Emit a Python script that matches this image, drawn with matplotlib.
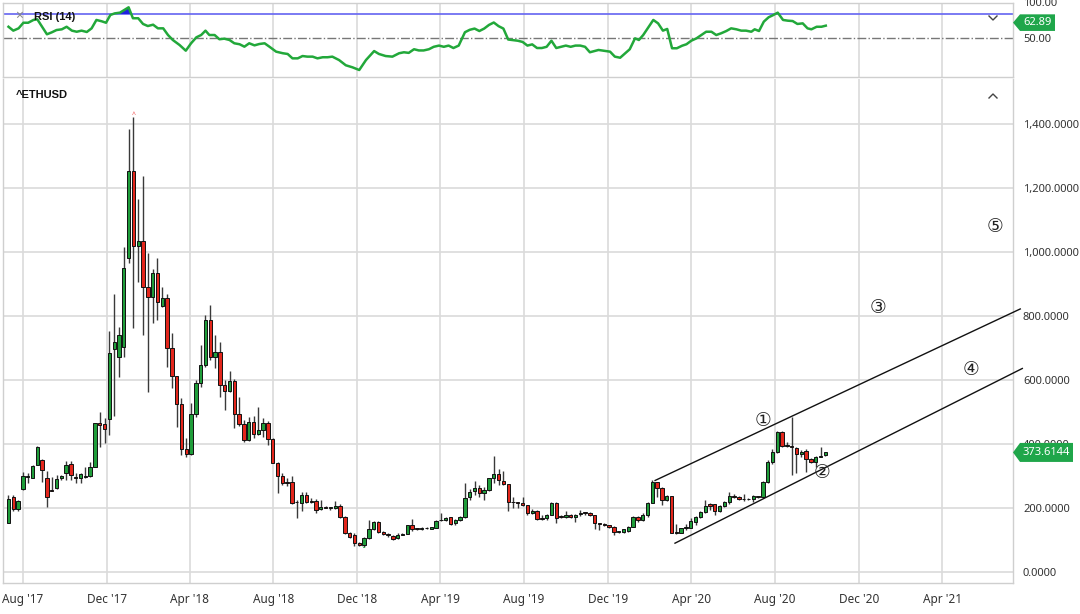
import matplotlib
matplotlib.use('Agg')
import matplotlib.pyplot as plt
import matplotlib.dates as mdates
import numpy as np
import pandas as pd
from matplotlib.patches import Polygon
from matplotlib.lines import Line2D

plt.rcParams['font.family'] = ['Noto Sans', 'DejaVu Sans']

# weekly ETH candles
opens = [154, 233, 196, 258, 298, 295, 334, 350, 295, 255, 262, 293, 308, 339, 296, 293, 297, 300, 329, 465,
         461, 477, 696, 673, 704, 980, 1254, 1020, 1035, 890, 860, 935, 831, 856, 699, 612, 525, 384, 369, 493,
         592, 647, 787, 673, 686, 584, 566, 598, 494, 462, 412, 468, 431, 444, 467, 415, 342, 300, 281, 281,
         219, 217, 241, 223, 221, 196, 202, 200, 200, 207, 173, 121, 117, 92, 83, 106, 133, 155, 124, 119,
         112, 106, 117, 120, 146, 135, 135, 137, 135, 137, 162, 162, 171, 152, 164, 171, 233, 254, 261, 246,
         256, 293, 305, 285, 275, 219, 217, 215, 209, 183, 192, 168, 168, 179, 217, 173, 173, 179, 173, 182,
         185, 185, 177, 152, 149, 146, 142, 126, 126, 128, 142, 171, 162, 178, 217, 282, 261, 225, 238, 123,
         123, 136, 139, 157, 171, 189, 211, 211, 191, 206, 220, 238, 235, 227, 228, 227, 237, 233, 282, 345,
         376, 438, 395, 392, 388, 368, 378, 352, 345, 360, 366]
highs = [241, 241, 225, 314, 310, 334, 394, 352, 317, 298, 303, 303, 347, 348, 308, 308, 329, 345, 467, 499,
         480, 754, 868, 767, 1017, 1383, 1423, 1165, 1237, 996, 946, 982, 892, 868, 746, 612, 543, 418, 527, 600,
         709, 803, 834, 741, 720, 600, 629, 603, 546, 475, 485, 487, 515, 480, 473, 418, 345, 308, 293, 300,
         225, 251, 251, 232, 227, 225, 206, 204, 222, 212, 175, 126, 121, 95, 108, 163, 160, 160, 129, 121,
         116, 121, 123, 147, 165, 138, 140, 140, 142, 164, 183, 172, 173, 166, 174, 277, 258, 285, 272, 267,
         295, 362, 321, 316, 275, 235, 220, 235, 209, 197, 194, 178, 181, 220, 220, 178, 192, 181, 181, 194,
         189, 188, 178, 154, 152, 148, 144, 129, 134, 145, 175, 175, 183, 220, 287, 282, 265, 241, 238, 150,
         139, 150, 168, 175, 192, 225, 217, 214, 209, 223, 251, 243, 237, 243, 232, 241, 239, 285, 350, 383,
         441, 441, 407, 485, 392, 381, 383, 355, 362, 392, 375]
lows = [152, 192, 192, 256, 277, 293, 334, 282, 202, 254, 258, 287, 287, 287, 277, 277, 293, 298, 329, 392,
        402, 428, 488, 610, 673, 967, 764, 907, 741, 564, 779, 788, 829, 642, 574, 454, 366, 358, 366, 483,
        577, 640, 662, 636, 548, 506, 564, 449, 456, 407, 410, 418, 428, 421, 397, 340, 248, 272, 269, 212,
        168, 192, 217, 215, 185, 194, 199, 194, 198, 168, 119, 105, 81, 80, 79, 104, 131, 121, 115, 110,
        100, 102, 115, 118, 129, 130, 130, 133, 133, 136, 158, 158, 148, 148, 160, 170, 225, 241, 235, 225,
        254, 277, 272, 272, 192, 199, 199, 206, 178, 181, 162, 164, 164, 177, 154, 168, 170, 168, 157, 175,
        178, 175, 133, 131, 144, 137, 116, 123, 123, 126, 140, 157, 160, 173, 215, 235, 209, 223, 121, 119,
        121, 131, 136, 147, 168, 185, 194, 178, 187, 202, 214, 230, 225, 223, 225, 220, 231, 231, 279, 337,
        371, 390, 392, 303, 310, 360, 313, 341, 329, 358, 363]
closes = [227, 196, 222, 300, 301, 331, 392, 319, 235, 252, 290, 300, 334, 303, 295, 305, 298, 329, 465, 459,
          446, 683, 720, 740, 951, 1254, 1020, 1035, 890, 860, 935, 845, 856, 699, 612, 525, 384, 369, 493, 592,
          647, 787, 673, 686, 584, 566, 598, 494, 462, 412, 468, 431, 444, 467, 415, 342, 300, 279, 277, 217,
          218, 241, 219, 219, 194, 202, 201, 201, 207, 173, 121, 110, 90, 83, 106, 133, 155, 124, 118, 115,
          104, 117, 120, 146, 135, 134, 136, 137, 140, 160, 162, 170, 150, 164, 171, 231, 251, 261, 246, 256,
          293, 305, 287, 275, 219, 218, 216, 209, 183, 192, 167, 167, 179, 217, 170, 172, 179, 171, 179, 183,
          184, 177, 152, 151, 148, 140, 126, 127, 133, 142, 171, 164, 178, 217, 282, 261, 225, 238, 123, 125,
          136, 142, 159, 171, 189, 206, 206, 191, 206, 220, 238, 233, 228, 228, 227, 237, 233, 282, 345, 376,
          438, 395, 396, 391, 368, 376, 352, 345, 360, 362, 373.6144]

# RSI(14) line, week offset from first candle and value
rsi_week = [0.0, 1.0, 2.1, 3.1, 4.1, 5.2, 6.0, 8.0, 9.0, 10.0, 11.1, 12.1, 13.2, 14.2, 15.2, 16.3, 17.3, 18.3,
            19.4, 20.3, 21.2, 22.1, 23.2, 25.0, 25.9, 27.0, 28.0, 29.0, 30.1, 31.1, 32.2, 33.2, 34.2, 35.6,
            36.9, 38.0, 39.1, 40.1, 41.0, 41.8, 42.9, 43.9, 44.9, 46.0, 47.0, 48.1, 49.1, 50.1, 51.2, 52.2,
            53.3, 54.3, 55.7, 57.1, 58.1, 59.1, 60.2, 61.2, 62.2, 63.3, 64.3, 65.4, 66.4, 67.4, 68.8, 70.2,
            71.6, 73.0, 74.4, 76.1, 77.1, 78.5, 79.9, 81.3, 82.3, 83.3, 84.4, 85.4, 86.4, 87.5, 88.5, 89.6,
            90.6, 91.6, 92.6, 93.7, 95.0, 96.0, 97.0, 98.0, 99.0, 100.0, 101.0, 102.0, 103.0, 104.0, 105.0,
            106.0, 107.0, 108.0, 109.0, 110.0, 111.0, 112.0, 113.0, 114.0, 115.0, 116.0, 117.0, 118.0, 119.0,
            120.0, 121.0, 122.8, 125.2, 126.2, 127.3, 129.3, 130.4, 131.2, 132.1, 134.2, 135.2, 136.2, 137.1,
            138.1, 139.1, 140.2, 141.1, 142.1, 143.2, 144.2, 145.2, 146.3, 147.3, 148.3, 149.4, 150.4, 151.5,
            152.5, 153.5, 154.6, 155.3, 156.2, 157.2, 158.2, 159.2, 160.1, 161.2, 162.2, 163.2, 164.2, 165.3,
            166.3, 167.1, 168.2, 169.2, 170.1]
rsi_vals = [59.5, 56.3, 58.2, 62.8, 62.8, 65.1, 65.6, 53.3, 54.9, 56.8, 57.4, 59.5, 56.3, 55.4, 56.3, 55.2, 58.2,
            65.1, 64.0, 62.8, 69.2, 70.5, 71.1, 75.5, 66.5, 66.5, 61.8, 60.1, 61.2, 58.2, 58.2, 52.7, 48.6,
            44.5, 39.8, 45.9, 50.8, 52.7, 56.3, 52.7, 52.7, 49.2, 49.7, 48.6, 45.9, 45.1, 43.1, 45.9, 44.2,
            45.3, 45.9, 43.1, 39.0, 37.7, 37.1, 33.5, 33.5, 35.4, 34.9, 34.9, 33.5, 34.4, 34.4, 34.9, 32.1,
            27.8, 26.1, 23.9, 32.1, 39.5, 37.1, 35.4, 34.9, 37.7, 38.5, 38.0, 41.0, 40.0, 40.0, 41.0, 43.0,
            44.0, 43.0, 44.0, 42.0, 44.0, 55.0, 57.0, 58.0, 56.0, 58.0, 61.0, 63.0, 60.0, 58.0, 49.0, 48.5,
            48.0, 47.0, 44.0, 45.0, 42.0, 42.0, 43.0, 48.0, 42.0, 43.0, 44.0, 43.0, 44.0, 44.0, 43.0, 38.5,
            40.4, 39.0, 34.9, 34.0, 41.0, 50.0, 48.6, 52.7, 65.1, 62.3, 56.3, 57.7, 41.8, 41.8, 43.9, 45.1,
            48.0, 50.0, 52.7, 55.4, 55.4, 52.7, 54.1, 56.0, 58.2, 57.4, 56.3, 56.3, 55.4, 57.4, 56.0, 63.7,
            67.3, 69.2, 71.1, 65.1, 64.5, 64.2, 61.8, 62.3, 58.2, 57.4, 59.5, 59.5, 60.4]
rsi_last = 62.89

# price axis / date axis
price_ticks = [0, 200, 400, 600, 800, 1000, 1200, 1400]
month_ticks = ['2017-08-01', '2017-12-01', '2018-04-01', '2018-08-01', '2018-12-01', '2019-04-01',
               '2019-08-01', '2019-12-01', '2020-04-01', '2020-08-01', '2020-12-01', '2021-04-01']
month_labels = ["Aug '17", "Dec '17", "Apr '18", "Aug '18", "Dec '18", "Apr '19",
                "Aug '19", "Dec '19", "Apr '20", "Aug '20", "Dec '20", "Apr '21"]

# channel drawn on the chart
upper_dates = ['2020-02-08', '2021-07-24']
upper_prices = [286, 822]
lower_dates = ['2020-03-08', '2021-07-27']
lower_prices = [90, 636]

# circled wave labels
wave_labels = ['①', '②', '③', '④', '⑤']
wave_dates = ['2020-07-14', '2020-10-08', '2020-12-29', '2021-05-13', '2021-06-17']
wave_prices = [472, 312, 828, 634, 1081]

W, H = 1080, 614
fig = plt.figure(figsize=(W / 100, H / 100), dpi=100)
fig.patch.set_facecolor('white')

GRID = '#dadada'
GREEN = '#1f9d3a'
RED = '#e3261c'
TXT = '#333333'

ax_rsi = fig.add_axes([3 / W, 1 - 77.3 / H, 1009.7 / W, 74.6 / H])
ax = fig.add_axes([3 / W, 1 - 583 / H, 1009.7 / W, 504 / H])

o = np.array(opens, float)
h = np.array(highs, float)
l = np.array(lows, float)
c = np.array(closes, float)
dates = pd.date_range('2017-07-11', periods=len(c), freq='7D')
x = mdates.date2num(dates)

xmin = mdates.date2num(pd.Timestamp('2017-07-03'))
xmax = mdates.date2num(pd.Timestamp('2021-07-13'))
tick_x = mdates.date2num(pd.to_datetime(month_ticks))

for a in (ax, ax_rsi):
    a.set_xlim(xmin, xmax)
    a.set_xticks(tick_x)
    a.grid(axis='x', color=GRID, lw=1.2, zorder=0)
    a.tick_params(length=0)
    for s in a.spines.values():
        s.set_color('#cfcfcf')
        s.set_linewidth(1)
    a.set_axisbelow(True)

# main candle panel
ax.set_ylim(-34.4, 1540.6)
ax.set_yticks(price_ticks)
ax.yaxis.set_major_formatter(plt.FuncFormatter(lambda v, p: f'{v:,.4f}'))
ax.yaxis.tick_right()
ax.grid(axis='y', color=GRID, lw=1.2, zorder=0)
ax.tick_params(axis='y', pad=7.4, labelsize=8, labelcolor=TXT)
ax.set_xticklabels(month_labels)
ax.tick_params(axis='x', pad=7, labelsize=8.5, labelcolor=TXT)
ax.spines['top'].set_visible(False)

up = c >= o
cols = np.where(up, GREEN, RED)
ax.vlines(x, l, h, color='#3a3a3a', lw=1, zorder=2)
body_lo = np.minimum(o, c)
body_h = np.maximum(np.abs(c - o), 2.0)
ax.bar(x, body_h, bottom=body_lo, width=4.9, color=cols, edgecolor='#111111', linewidth=0.7, zorder=3)

# peak / trough markers
imax = int(np.argmax(h))
imin = int(np.argmin(l))
ax.annotate('^', (x[imax], h[imax]), xytext=(0, -1.5), textcoords='offset points', ha='center', va='bottom',
            color='#f05050', fontsize=5)
ax.annotate('ˇ', (x[imin], l[imin]), xytext=(0, -0.5), textcoords='offset points', ha='center', va='top',
            color='#20b040', fontsize=7)

# channel
for ds, ps in ((upper_dates, upper_prices), (lower_dates, lower_prices)):
    ax.plot(mdates.date2num(pd.to_datetime(ds)), ps, color='#111111', lw=1, zorder=4, clip_on=False)

for t, d, p in zip(wave_labels, wave_dates, wave_prices):
    ax.text(mdates.date2num(pd.Timestamp(d)), p, t, ha='center', va='center', fontsize=13.5,
            color='#222222', family=['DejaVu Sans', 'Noto Sans CJK SC'], zorder=5)

ax.text(13 / 1009.7, 1 - 15.7 / 504, '^ETHUSD', transform=ax.transAxes, fontsize=8, fontweight='bold',
        family=['Liberation Sans', 'DejaVu Sans'], va='center', ha='left', color='#111111')

# RSI panel
ax_rsi.set_ylim(17.9, 79.3)
ax_rsi.set_yticks([50])
ax_rsi.set_yticklabels(['50.00'])
ax_rsi.yaxis.tick_right()
ax_rsi.tick_params(axis='y', pad=7.4, labelsize=8, labelcolor=TXT)
ax_rsi.set_xticklabels([])
ax_rsi.axhline(70, color='#6f6ff2', lw=1.3, zorder=2)
ax_rsi.axhline(50, color='#777777', lw=1, ls='-.', zorder=2)
rx = mdates.date2num(dates[0]) + np.array(rsi_week) * 7
rv = np.array(rsi_vals)
ax_rsi.fill_between(rx, rv, 70, where=rv > 70, interpolate=True, color='#2020e0', zorder=3, lw=0)
ax_rsi.plot(rx, rv, color='#22a83a', lw=1.8, zorder=4)
ax_rsi.text(31 / 1009.7, 1 - 14.5 / 74.6, 'RSI (14)', transform=ax_rsi.transAxes, fontsize=8,
            fontweight='bold', family=['Liberation Sans', 'DejaVu Sans'], va='center', color='#111111', zorder=6)
ax_rsi.text(16.5 / 1009.7, 1 - 14 / 74.6, '×', transform=ax_rsi.transAxes, fontsize=10,
            color='#888888', va='center', ha='center', zorder=6)
fig.text(1023 / W, 1 - 3 / H, '100.00', fontsize=8, color=TXT, va='center', ha='left')


def fig_px(px, py):
    return px / W, 1 - py / H


def tag(axis, value, text, x_tip, x_right, half_h, fs):
    _, ydisp = axis.transData.transform((xmin, value))
    py = H - ydisp
    pts = [fig_px(x_tip, py), fig_px(x_tip + 7, py - half_h), fig_px(x_right, py - half_h),
           fig_px(x_right, py + half_h), fig_px(x_tip + 7, py + half_h)]
    fig.add_artist(Polygon(pts, closed=True, transform=fig.transFigure, facecolor='#1fa64a',
                           edgecolor='none', zorder=10))
    fig.text((x_tip + 7 + x_right) / 2 / W, 1 - py / H, text, color='white', fontweight='bold',
             fontsize=fs, ha='center', va='center', zorder=11)


tag(ax, c[-1], f'{c[-1]:.4f}', 1013, 1073, 9.5, 8)
tag(ax_rsi, rsi_last, f'{rsi_last:.2f}', 1013, 1055, 8.3, 8)

# small chevrons in panel corners
for (cx, cy, d) in ((993, 18, 1), (993, 96, -1)):
    fig.add_artist(Line2D([(cx - 4) / W, cx / W, (cx + 4) / W],
                          [1 - (cy - 2 * d) / H, 1 - (cy + 2 * d) / H, 1 - (cy - 2 * d) / H],
                          transform=fig.transFigure, color='#444444', lw=1))

fig.savefig('out.png', dpi=100, facecolor='white')
